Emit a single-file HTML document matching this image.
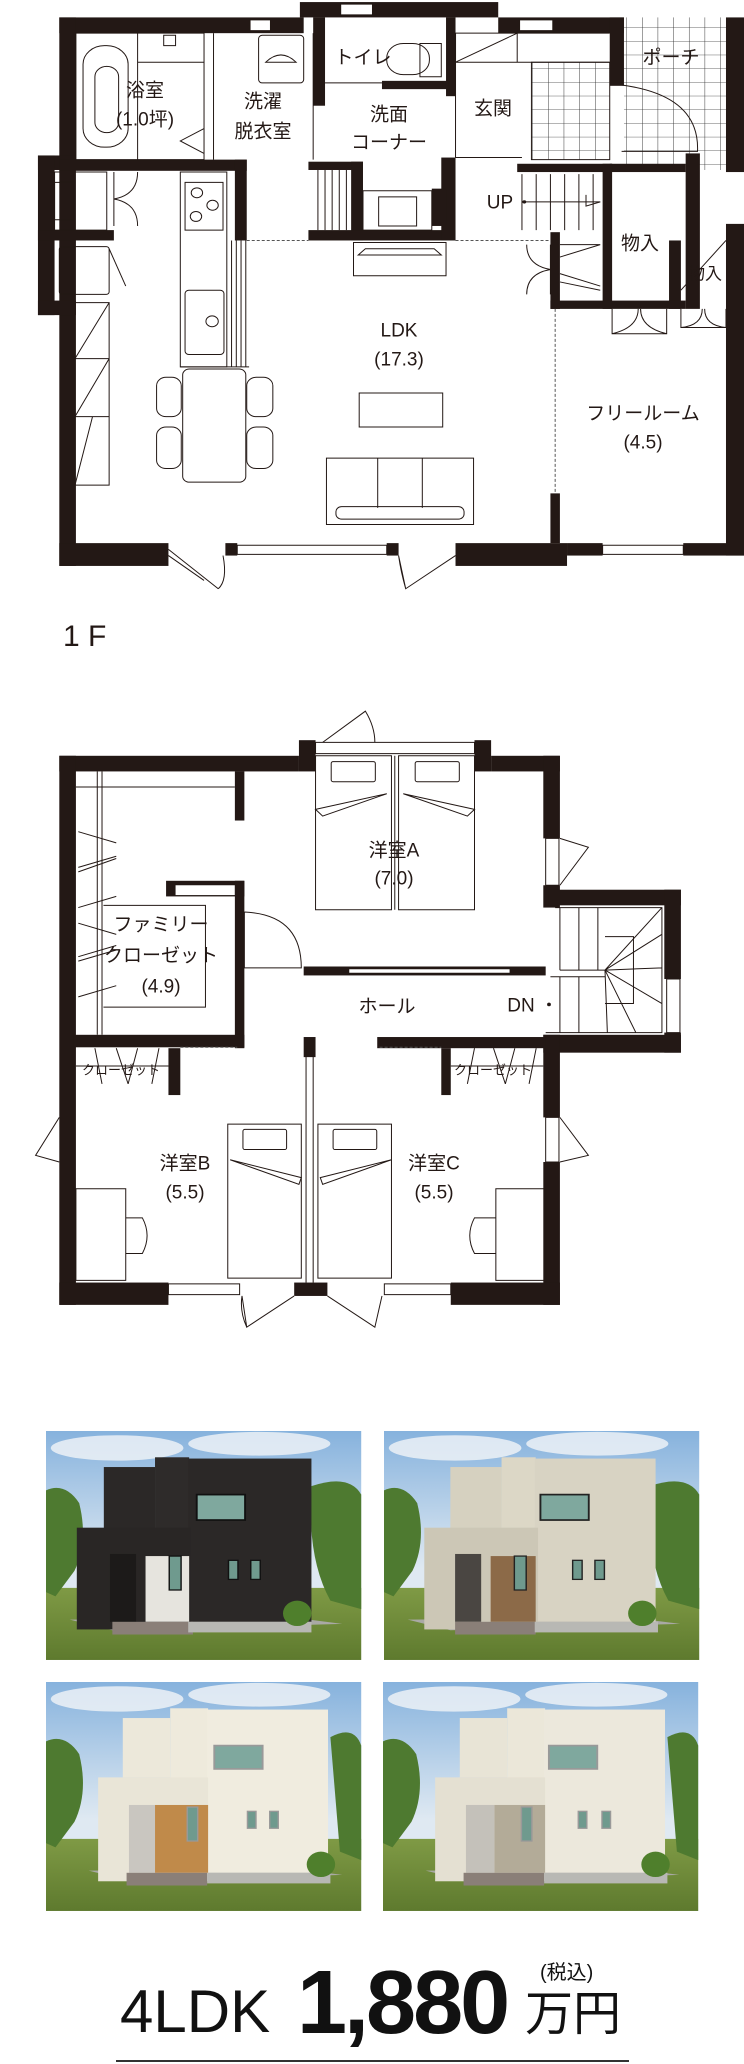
<!DOCTYPE html>
<html><head><meta charset="utf-8"><style>
html,body{margin:0;padding:0;background:#fff;width:744px;height:2064px;overflow:hidden}
svg{display:block}
.w{fill:#231815}
.l{fill:none;stroke:#231815;stroke-width:1;vector-effect:non-scaling-stroke}
.lf{fill:#fff;stroke:#231815;stroke-width:1;vector-effect:non-scaling-stroke}
.g{fill:none;stroke:#555;stroke-width:1;stroke-dasharray:3 2;vector-effect:non-scaling-stroke}
text{font-family:"Liberation Sans","Noto Sans CJK JP",sans-serif;fill:#231815}
.t{font-size:19px;text-anchor:middle;dominant-baseline:central}
</style></head><body>
<svg width="744" height="2064" viewBox="0 0 744 2064" xmlns="http://www.w3.org/2000/svg">
<defs>
<pattern id="tile" patternUnits="userSpaceOnUse" width="33" height="33"><path d="M0 0H33M0 0V33" stroke="#333" stroke-width="2" fill="none"/></pattern>
<linearGradient id="sky" x1="0" y1="0" x2="0" y2="1"><stop offset="0" stop-color="#86b2dd"/><stop offset="0.6" stop-color="#dfe9f2"/></linearGradient>
<linearGradient id="grass" x1="0" y1="0" x2="0" y2="1"><stop offset="0" stop-color="#7f9a45"/><stop offset="1" stop-color="#5e7a2e"/></linearGradient>
</defs>

<!-- ================= 1F ================= -->
<g transform="scale(0.4745 0.4146)">
<rect x="1315" y="42" width="215" height="368" fill="url(#tile)"/>
<rect x="1120" y="150" width="165" height="235" fill="url(#tile)"/>
<rect x="1120" y="150" width="165" height="235" class="l"/>
<!-- walls -->
<rect class="w" x="125" y="42" width="515" height="38"/>
<rect class="w" x="632" y="5" width="418" height="37"/>
<rect class="w" x="660" y="42" width="25" height="213"/>
<rect class="w" x="1050" y="42" width="265" height="38"/>
<rect class="w" x="1285" y="42" width="30" height="165"/>
<rect class="w" x="1530" y="42" width="38" height="373"/>
<rect class="w" x="125" y="42" width="35" height="1323"/>
<rect class="w" x="80" y="375" width="80" height="35"/>
<rect class="w" x="80" y="375" width="35" height="385"/>
<rect class="w" x="80" y="725" width="80" height="35"/>
<rect class="w" x="80" y="555" width="160" height="25"/>
<rect class="w" x="125" y="385" width="395" height="27"/>
<rect class="w" x="495" y="385" width="25" height="195"/>
<rect class="w" x="650" y="390" width="115" height="20"/>
<rect class="w" x="740" y="390" width="25" height="190"/>
<rect class="w" x="650" y="555" width="310" height="25"/>
<rect class="w" x="930" y="380" width="30" height="200"/>
<rect class="w" x="910" y="455" width="30" height="90"/>
<rect class="w" x="940" y="42" width="20" height="190"/>
<rect class="w" x="805" y="195" width="140" height="20"/>
<rect class="w" x="1090" y="395" width="200" height="20"/>
<rect class="w" x="1285" y="395" width="160" height="20"/>
<rect class="w" x="1445" y="370" width="30" height="375"/>
<rect class="w" x="1270" y="395" width="20" height="350"/>
<rect class="w" x="1410" y="580" width="25" height="165"/>
<rect class="w" x="1160" y="560" width="20" height="185"/>
<rect class="w" x="1160" y="725" width="285" height="20"/>
<rect class="w" x="1160" y="1190" width="20" height="120"/>
<rect class="w" x="125" y="1310" width="230" height="55"/>
<rect class="w" x="475" y="1310" width="25" height="30"/>
<rect class="w" x="815" y="1310" width="25" height="30"/>
<rect class="w" x="960" y="1310" width="235" height="55"/>
<rect class="w" x="1195" y="1310" width="75" height="30"/>
<rect class="w" x="1440" y="1310" width="128" height="30"/>
<rect class="w" x="1530" y="540" width="38" height="800"/>
<!-- windows -->
<rect class="lf" x="527" y="48" width="43" height="26"/>
<rect class="lf" x="718" y="10" width="67" height="26"/>
<rect class="lf" x="1095" y="48" width="70" height="26"/>
<rect class="lf" x="500" y="1315" width="315" height="22"/>
<rect class="lf" x="1270" y="1315" width="170" height="22"/>
<!-- room outlines -->
<rect class="l" x="160" y="80" width="270" height="305"/>
<rect class="l" x="175" y="110" width="95" height="245" rx="45"/>
<rect class="l" x="200" y="160" width="50" height="160" rx="25"/>
<line class="l" x1="290" y1="80" x2="290" y2="385"/>
<line class="l" x1="290" y1="150" x2="430" y2="150"/>
<rect class="l" x="345" y="85" width="25" height="25"/>
<path class="l" d="M430 310 L380 340 L430 370"/>
<line class="l" x1="450" y1="80" x2="450" y2="385"/>
<rect class="l" x="545" y="85" width="95" height="115" rx="8"/>
<path class="l" d="M560 150 Q592 115 624 150 Z"/>
<line class="l" x1="660" y1="80" x2="660" y2="385"/>
<rect class="l" x="815" y="105" width="90" height="75" rx="35"/>
<rect class="l" x="885" y="105" width="45" height="80"/>
<line class="l" x1="685" y1="200" x2="805" y2="200"/>
<line class="l" x1="960" y1="80" x2="960" y2="380"/>
<path class="l" d="M960 150 L1090 80 L1090 150 L960 150 L960 80 L1285 80 M1090 150 H1285"/>
<line class="l" x1="960" y1="380" x2="1100" y2="380"/>
<path class="l" d="M1310 205 Q1475 230 1470 365 L1310 365"/>
<!-- stairs 1F -->
<path class="l" d="M1100 420 V555 M1130 420 V555 M1160 420 V555 M1190 420 V555 M1220 420 V555 M1250 420 V555 M1100 487 H1265"/>
<circle cx="1105" cy="487" r="4" class="w"/>
<path class="l" d="M1235 470 V497 L1265 487"/>
<path class="l" d="M670 410 V555 M685 410 V555 M700 410 V555 M715 410 V555 M730 410 V555"/>
<path class="g" d="M520 580 H650 M960 580 H1160 M1170 745 V1190"/>
<!-- left storage -->
<rect class="l" x="115" y="415" width="110" height="140"/>
<rect class="l" x="115" y="440" width="40" height="90"/>
<path class="l" d="M240 415 V545 M240 480 Q290 470 290 415 M240 480 Q290 490 290 545"/>
<rect class="l" x="125" y="595" width="105" height="115" rx="6"/>
<path class="l" d="M230 600 L265 690"/>
<path class="l" d="M158 730 H230 V1170 H158 Z M158 865 H230 M158 1005 H230 M230 730 L158 865 M230 865 L158 1005 M195 1005 L158 1170"/>
<!-- kitchen -->
<rect class="l" x="380" y="415" width="98" height="470"/>
<rect class="l" x="390" y="440" width="80" height="115"/>
<circle class="l" cx="415" cy="465" r="12"/><circle class="l" cx="448" cy="495" r="12"/><circle class="l" cx="413" cy="522" r="12"/>
<rect class="l" x="390" y="700" width="82" height="155" rx="8"/>
<circle class="l" cx="447" cy="775" r="13"/>
<path class="l" d="M488 580 V885 M498 580 V885 M508 580 V885 M518 580 V885 M380 885 H525"/>
<!-- dining -->
<rect class="l" x="385" y="890" width="133" height="273" rx="14"/>
<rect class="l" x="330" y="910" width="52" height="95" rx="20"/><rect class="l" x="330" y="1030" width="52" height="100" rx="20"/>
<rect class="l" x="520" y="910" width="55" height="95" rx="20"/><rect class="l" x="520" y="1030" width="55" height="100" rx="20"/>
<!-- living -->
<rect class="l" x="745" y="585" width="195" height="80"/>
<path class="l" d="M755 615 L770 600 H915 L930 615 Z"/>
<rect class="l" x="757" y="948" width="176" height="82"/>
<rect class="l" x="688" y="1105" width="310" height="160"/>
<path class="l" d="M796 1105 V1225 M890 1105 V1225"/>
<rect class="l" x="708" y="1222" width="270" height="30" rx="12"/>
<!-- sink -->
<rect class="l" x="765" y="460" width="145" height="95"/>
<rect class="l" x="798" y="475" width="80" height="70"/>
<!-- closets -->
<path class="l" d="M1180 590 L1265 590 M1180 620 L1265 590 M1180 660 L1265 690 M1180 680 L1265 700"/>
<path class="l" d="M1160 590 V710 M1160 650 Q1110 640 1110 590 M1160 650 Q1110 660 1110 710"/>
<path class="l" d="M1290 745 V805 H1405 V745 M1290 805 Q1345 790 1345 745 M1405 805 Q1350 790 1350 745"/>
<path class="l" d="M1435 745 V790 H1530 V745 M1435 790 Q1480 785 1480 745 M1530 790 Q1485 785 1485 745"/>
<path class="l" d="M1435 700 L1530 580"/>
<!-- bottom doors -->
<path class="l" d="M355 1325 L460 1420 M470 1340 Q480 1400 460 1420 M355 1340 L430 1400"/>
<path class="l" d="M840 1340 L855 1420 L960 1340 M840 1340 Q845 1380 855 1420"/>
</g>
<text class="t" x="145" y="91">浴室</text>
<text class="t" x="145" y="120">(1.0坪)</text>
<text class="t" x="263" y="102">洗濯</text>
<text class="t" x="263" y="132">脱衣室</text>
<text class="t" x="363" y="58">トイレ</text>
<text class="t" x="389" y="115">洗面</text>
<text class="t" x="389" y="143">コーナー</text>
<text class="t" x="493" y="109">玄関</text>
<text class="t" x="671" y="58">ポーチ</text>
<text class="t" x="500" y="203">UP</text>
<text class="t" x="640" y="244">物入</text>
<text class="t" x="705" y="274" style="font-size:17px">物入</text>
<text class="t" x="399" y="331">LDK</text>
<text class="t" x="399" y="360">(17.3)</text>
<text class="t" x="643" y="414">フリールーム</text>
<text class="t" x="643" y="443">(4.5)</text>
<text x="63" y="646" style="font-size:30px">1 F</text>

<!-- ================= 2F ================= -->
<g transform="translate(0 700) scale(0.4745 0.4464)">
<rect class="w" x="125" y="125" width="505" height="35"/>
<rect class="w" x="630" y="90" width="35" height="70"/>
<rect class="lf" x="665" y="95" width="335" height="25"/>
<rect class="w" x="1000" y="90" width="35" height="70"/>
<rect class="w" x="1035" y="125" width="145" height="35"/>
<rect class="w" x="125" y="125" width="35" height="1230"/>
<rect class="w" x="1145" y="125" width="35" height="185"/>
<rect class="lf" x="1150" y="310" width="28" height="105"/>
<rect class="w" x="1145" y="415" width="35" height="50"/>
<rect class="w" x="1155" y="425" width="280" height="35"/>
<rect class="w" x="1400" y="425" width="35" height="200"/>
<rect class="lf" x="1405" y="625" width="28" height="120"/>
<rect class="w" x="1400" y="745" width="35" height="45"/>
<rect class="w" x="1145" y="750" width="290" height="40"/>
<rect class="w" x="1145" y="750" width="35" height="185"/>
<rect class="lf" x="1150" y="935" width="28" height="100"/>
<rect class="w" x="1145" y="1035" width="35" height="320"/>
<rect class="w" x="125" y="1305" width="230" height="50"/>
<rect class="lf" x="355" y="1308" width="150" height="24"/>
<rect class="w" x="620" y="1305" width="70" height="30"/>
<rect class="lf" x="810" y="1308" width="140" height="24"/>
<rect class="w" x="950" y="1305" width="230" height="50"/>
<rect class="w" x="495" y="160" width="20" height="110"/>
<rect class="w" x="350" y="405" width="165" height="35"/>
<rect fill="#fff" x="370" y="415" width="125" height="22"/>
<rect class="w" x="495" y="405" width="20" height="375"/>
<rect class="w" x="155" y="750" width="360" height="28"/>
<rect class="w" x="640" y="597" width="510" height="20"/>
<rect class="lf" x="735" y="602" width="340" height="10"/>
<rect class="w" x="795" y="755" width="355" height="25"/>
<rect class="w" x="640" y="755" width="25" height="45"/>
<rect class="w" x="355" y="780" width="25" height="105"/>
<rect class="w" x="930" y="780" width="20" height="105"/>
<!-- family closet -->
<path class="l" d="M205 160 V750 M215 160 V750 M160 195 H495 M218 460 H433 V688 H218"/>
<path class="l" d="M165 295 L245 320 M165 385 L245 355 M165 375 L245 350 M165 465 L245 440 M165 500 L245 525 M165 585 L245 560 M165 575 L245 550 M165 665 L245 640"/>
<path class="l" d="M515 475 V600 H635 Q635 480 515 475"/>
<!-- beds A -->
<rect class="l" x="665" y="125" width="160" height="345"/>
<rect class="l" x="840" y="125" width="160" height="345"/>
<line class="l" x1="832" y1="125" x2="832" y2="470"/>
<rect class="l" x="698" y="138" width="93" height="45" rx="4"/>
<rect class="l" x="875" y="138" width="93" height="45" rx="4"/>
<path class="l" d="M665 245 L815 210 L680 260 Z M1000 245 L850 210 L985 260 Z"/>
<!-- stairs 2F -->
<path class="l" d="M1170 465 H1395 V745 H1150 M1180 465 V605 M1220 465 V605 M1260 465 V605 M1180 605 H1275 L1395 465 M1275 605 L1395 525 M1275 605 L1395 600 M1275 605 L1395 680 M1275 605 L1340 745 M1275 605 L1280 745 M1180 620 V745 M1220 620 V745 M1160 620 H1275 M1275 530 H1335 V680 H1275"/>
<circle class="w" cx="1157" cy="682" r="4"/>
<path class="g" d="M380 778 H500 M800 778 H930"/>
<!-- closets B C -->
<path class="l" d="M160 820 H355 M950 820 H1145 M200 780 L215 860 M245 780 L270 860 M290 780 L270 860 M335 780 L320 860 M1000 780 L985 860 M1040 780 L1065 860 M1085 780 L1065 860 M1130 780 L1115 860"/>
<!-- divider -->
<path class="l" d="M645 780 V1305 M660 780 V1305"/>
<!-- beds B C -->
<rect class="l" x="480" y="950" width="155" height="345"/>
<rect class="l" x="670" y="950" width="155" height="345"/>
<rect class="l" x="512" y="962" width="92" height="45" rx="4"/>
<rect class="l" x="702" y="962" width="92" height="45" rx="4"/>
<path class="l" d="M485 1030 L635 1070 L630 1085 Z M825 1030 L675 1070 L680 1085 Z"/>
<!-- desks -->
<rect class="l" x="160" y="1095" width="105" height="205"/>
<path class="l" d="M265 1160 H300 Q320 1200 300 1240 H265"/>
<rect class="l" x="1045" y="1095" width="105" height="205"/>
<path class="l" d="M1045 1160 H1000 Q980 1200 1000 1240 H1045"/>
<!-- exterior doors -->
<path class="l" d="M680 95 L770 25 Q790 60 790 95"/>
<path class="l" d="M1180 310 L1240 330 L1180 415"/>
<path class="l" d="M125 935 L75 1020 L125 1035"/>
<path class="l" d="M1180 935 L1240 1020 L1180 1035"/>
<path class="l" d="M510 1335 L520 1405 L620 1335 M510 1335 Q505 1370 520 1405"/>
<path class="l" d="M690 1335 L790 1405 L805 1335"/>
</g>
<text class="t" x="394" y="851">洋室A</text>
<text class="t" x="394" y="879">(7.0)</text>
<text class="t" x="161" y="925">ファミリー</text>
<text class="t" x="161" y="956">クローゼット</text>
<text class="t" x="161" y="987">(4.9)</text>
<text class="t" x="387" y="1007">ホール</text>
<text class="t" x="521" y="1006">DN</text>
<text class="t" x="121" y="1070" style="font-size:13px">クローゼット</text>
<text class="t" x="493" y="1070" style="font-size:13px">クローゼット</text>
<text class="t" x="185" y="1164">洋室B</text>
<text class="t" x="185" y="1193">(5.5)</text>
<text class="t" x="434" y="1164">洋室C</text>
<text class="t" x="434" y="1193">(5.5)</text>
<text x="62" y="1502" style="font-size:30px">2 F</text>

<!-- ================= Photos ================= -->
<g id="p1" transform="translate(46 1431) scale(0.474 0.424)">
<rect width="665" height="540" fill="url(#sky)"/>
<ellipse cx="150" cy="40" rx="140" ry="30" fill="#f2f5f8" opacity=".8"/><ellipse cx="450" cy="30" rx="150" ry="28" fill="#f2f5f8" opacity=".8"/>
<rect y="370" width="665" height="170" fill="url(#grass)"/>
<path d="M0 140 Q40 120 70 170 Q90 260 60 330 L20 390 L0 380 Z" fill="#4e7a30"/>
<path d="M560 130 Q640 100 665 150 V420 L600 400 Q550 300 560 130 Z" fill="#4e7a30"/>
<path d="M50 445 L140 470 L625 455 L520 440 Z" fill="#a9a9a5"/>
<rect x="122" y="85" width="108" height="150" fill="#2b2827"/><rect x="230" y="62" width="72" height="175" fill="#2e2b2a"/><rect x="300" y="65" width="260" height="385" fill="#2b2827"/>
<rect x="65" y="228" width="240" height="240" fill="#292625"/><rect x="210" y="295" width="92" height="155" fill="#e6e4de"/>
<rect x="135" y="290" width="55" height="160" fill="#1c1a19"/>
<rect x="140" y="450" width="170" height="30" fill="#8a7f78"/><rect x="300" y="450" width="260" height="25" fill="#b8b8b4"/>
<rect x="318" y="150" width="102" height="60" fill="#7fa89e" stroke="#111" stroke-width="4"/>
<rect x="260" y="295" width="25" height="80" fill="#6f9a8e" stroke="#111" stroke-width="3"/>
<rect x="385" y="305" width="20" height="45" fill="#6f9a8e" stroke="#111" stroke-width="3"/><rect x="432" y="305" width="20" height="45" fill="#6f9a8e" stroke="#111" stroke-width="3"/>
<circle cx="530" cy="430" r="30" fill="#4f7f2c"/>
</g>
<g transform="translate(384 1431) scale(0.474 0.424)">
<rect width="665" height="540" fill="url(#sky)"/>
<ellipse cx="150" cy="40" rx="140" ry="30" fill="#f2f5f8" opacity=".8"/><ellipse cx="450" cy="30" rx="150" ry="28" fill="#f2f5f8" opacity=".8"/>
<rect y="370" width="665" height="170" fill="url(#grass)"/>
<path d="M0 140 Q40 120 70 170 Q90 260 60 330 L20 390 L0 380 Z" fill="#4e7a30"/>
<path d="M560 130 Q640 100 665 150 V420 L600 400 Q550 300 560 130 Z" fill="#4e7a30"/>
<path d="M50 445 L140 470 L625 455 L520 440 Z" fill="#a9a9a5"/>
<rect x="140" y="85" width="108" height="150" fill="#d6d1c0"/><rect x="248" y="62" width="72" height="175" fill="#dcd7c6"/><rect x="318" y="65" width="255" height="385" fill="#d8d3c3"/>
<rect x="85" y="228" width="240" height="240" fill="#ccc7b6"/><rect x="225" y="295" width="95" height="155" fill="#8c6a48"/>
<rect x="150" y="290" width="55" height="160" fill="#4a4642"/>
<rect x="150" y="450" width="170" height="30" fill="#8a7f78"/><rect x="318" y="450" width="260" height="25" fill="#b8b8b4"/>
<rect x="330" y="150" width="102" height="60" fill="#7fa89e" stroke="#222" stroke-width="4"/>
<rect x="275" y="295" width="25" height="80" fill="#6f9a8e" stroke="#222" stroke-width="3"/>
<rect x="398" y="305" width="20" height="45" fill="#6f9a8e" stroke="#222" stroke-width="3"/><rect x="445" y="305" width="20" height="45" fill="#6f9a8e" stroke="#222" stroke-width="3"/>
<circle cx="545" cy="430" r="30" fill="#4f7f2c"/>
</g>
<g transform="translate(46 1682) scale(0.474 0.424)">
<rect width="665" height="540" fill="url(#sky)"/>
<ellipse cx="150" cy="40" rx="140" ry="30" fill="#f2f5f8" opacity=".8"/><ellipse cx="450" cy="30" rx="150" ry="28" fill="#f2f5f8" opacity=".8"/>
<rect y="370" width="665" height="170" fill="url(#grass)"/>
<path d="M0 140 Q40 120 70 170 Q90 260 60 330 L20 390 L0 380 Z" fill="#4e7a30"/>
<path d="M600 130 Q650 100 665 150 V420 L620 400 Z" fill="#4e7a30"/>
<path d="M90 445 L180 470 L625 455 L520 440 Z" fill="#a9a9a5"/>
<rect x="162" y="85" width="100" height="140" fill="#ece8da"/><rect x="262" y="62" width="80" height="165" fill="#eeeadc"/><rect x="340" y="65" width="255" height="385" fill="#f0ecdf"/>
<rect x="110" y="225" width="232" height="245" fill="#e9e5d7"/><rect x="230" y="290" width="112" height="160" fill="#c08a4a"/>
<rect x="175" y="290" width="55" height="160" fill="#c9c6c0"/>
<rect x="170" y="450" width="170" height="30" fill="#8a7f78"/><rect x="340" y="450" width="260" height="25" fill="#b8b8b4"/>
<rect x="355" y="150" width="102" height="55" fill="#7fa89e" stroke="#999" stroke-width="4"/>
<rect x="298" y="295" width="22" height="80" fill="#6f9a8e" stroke="#999" stroke-width="3"/>
<rect x="425" y="305" width="18" height="40" fill="#6f9a8e" stroke="#999" stroke-width="3"/><rect x="472" y="305" width="18" height="40" fill="#6f9a8e" stroke="#999" stroke-width="3"/>
<circle cx="580" cy="430" r="30" fill="#4f7f2c"/>
</g>
<g transform="translate(383 1682) scale(0.474 0.424)">
<rect width="665" height="540" fill="url(#sky)"/>
<ellipse cx="150" cy="40" rx="140" ry="30" fill="#f2f5f8" opacity=".8"/><ellipse cx="450" cy="30" rx="150" ry="28" fill="#f2f5f8" opacity=".8"/>
<rect y="370" width="665" height="170" fill="url(#grass)"/>
<path d="M0 140 Q40 120 70 170 Q90 260 60 330 L20 390 L0 380 Z" fill="#4e7a30"/>
<path d="M600 130 Q650 100 665 150 V420 L620 400 Z" fill="#4e7a30"/>
<path d="M90 445 L180 470 L625 455 L520 440 Z" fill="#a9a9a5"/>
<rect x="162" y="85" width="100" height="140" fill="#e8e4d6"/><rect x="262" y="62" width="80" height="165" fill="#ebe7d9"/><rect x="340" y="65" width="255" height="385" fill="#ece8dc"/>
<rect x="110" y="225" width="232" height="245" fill="#e4e0d2"/><rect x="235" y="290" width="107" height="160" fill="#b3ab98"/>
<rect x="175" y="290" width="60" height="160" fill="#c4c1ba"/>
<rect x="170" y="450" width="170" height="30" fill="#8a7f78"/><rect x="340" y="450" width="260" height="25" fill="#b8b8b4"/>
<rect x="350" y="150" width="102" height="55" fill="#7fa89e" stroke="#999" stroke-width="4"/>
<rect x="292" y="295" width="22" height="80" fill="#6f9a8e" stroke="#999" stroke-width="3"/>
<rect x="412" y="305" width="18" height="40" fill="#6f9a8e" stroke="#999" stroke-width="3"/><rect x="462" y="305" width="18" height="40" fill="#6f9a8e" stroke="#999" stroke-width="3"/>
<circle cx="575" cy="430" r="30" fill="#4f7f2c"/>
</g>

<!-- ================= Price ================= -->
<text x="120" y="2032" style="font-size:60px;fill:#111">4LDK</text>
<text x="297" y="2033" style="font-size:90px;font-weight:bold;letter-spacing:-3px;fill:#111">1,880</text>
<text x="525" y="2030" style="font-size:48px;fill:#111">万円</text>
<text x="540" y="1979" style="font-size:20px;fill:#111">(税込)</text>
<rect x="116" y="2060" width="513" height="2" fill="#333"/>
</svg>
</body></html>
